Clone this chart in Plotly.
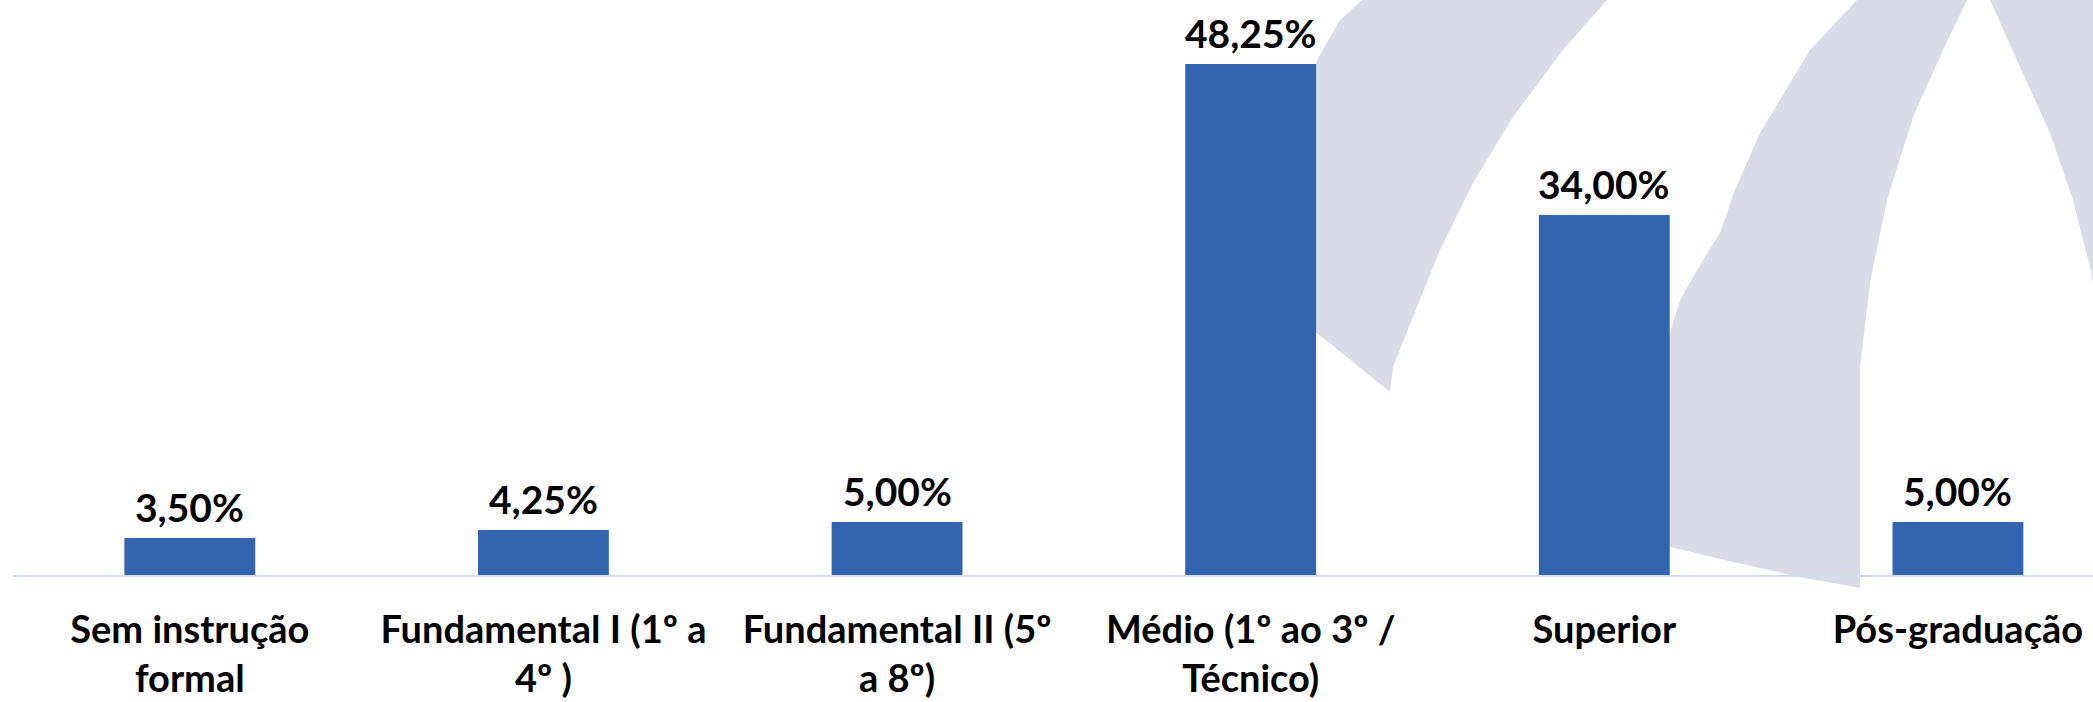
import plotly.graph_objects as go

categories = [
    "Sem instrução<br>formal",
    "Fundamental I (1º a<br>4º )",
    "Fundamental II (5º<br>a 8º)",
    "Médio (1º ao 3º /<br>Técnico)",
    "Superior",
    "Pós-graduação",
]
values = [3.50, 4.25, 5.00, 48.25, 34.00, 5.00]
value_labels = [f"{v:.2f}".replace(".", ",") + "%" for v in values]

W, H = 2093, 702
ML, MR, MT, MB = 13, 0, 0, 127
PW, PH = W - ML - MR, H - MT - MB

FONT = "Lato, Liberation Sans Narrow, sans-serif"
FS = 38
BAR = "#3364AF"
WM = "#D9DBE7"


def px(x, y):
    return (x - ML) / PW, (PH - y) / PH


def path(points):
    pts = [px(x, y) for x, y in points]
    return "M " + " L ".join(f"{a:.5f},{b:.5f}" for a, b in pts) + " Z"


left_band = [(1362, 0), (1340, 20), (1317, 60), (1300, 150), (1300, 320), (1317, 333),
             (1390, 392), (1393, 367), (1413, 317), (1440, 250), (1473, 183),
             (1513, 117), (1563, 50), (1607, 0)]
mid_band = [(1857, 0), (1810, 50), (1760, 133), (1735, 190), (1720, 233), (1700, 265),
            (1680, 300), (1670, 333), (1660, 400), (1660, 540), (1671, 547), (1733, 562),
            (1800, 577), (1860, 588), (1860, 367), (1870, 283), (1887, 200), (1913, 117),
            (1943, 50), (1967, 0)]
right_band = [(1990, 0), (2020, 67), (2050, 133), (2073, 200), (2090, 267), (2093, 283),
              (2093, 0)]

shapes = [
    dict(type="path", xref="paper", yref="paper", path=path(b), fillcolor=WM,
         line=dict(width=0), layer="below")
    for b in (left_band, mid_band, right_band)
]

fig = go.Figure()
fig.add_trace(go.Bar(
    x=categories, y=values, width=0.37,
    marker=dict(color=BAR, line=dict(width=0)),
    hoverinfo="skip",
))

annotations = [
    dict(x=c, y=v, xref="x", yref="y", text=t, showarrow=False,
         yanchor="bottom", yshift=6,
         font=dict(family=FONT, size=FS + 1, color="#000000", weight="bold"))
    for c, v, t in zip(categories, values, value_labels)
]

fig.update_layout(
    width=W, height=H,
    margin=dict(l=ML, r=MR, t=MT, b=MB, autoexpand=False),
    paper_bgcolor="white", plot_bgcolor="rgba(0,0,0,0)",
    showlegend=False,
    shapes=shapes,
    annotations=annotations,
    font=dict(family=FONT, size=FS, color="#000000", weight="bold"),
)
fig.update_xaxes(
    range=[-0.5, 5.382], showgrid=False, zeroline=False,
    showline=True, linecolor="#D0DCF0", linewidth=2,
    ticks="", ticklabelstandoff=20, automargin=False,
    tickfont=dict(family=FONT, size=FS, color="#000000", weight="bold"),
)
fig.update_yaxes(
    range=[0, 54.3], visible=False, showgrid=False, zeroline=False, automargin=False,
)

fig.write_html(
    "out.html",
    config={"displayModeBar": False},
    post_script="document.body.style.margin='0';document.body.style.overflow='hidden';",
)
